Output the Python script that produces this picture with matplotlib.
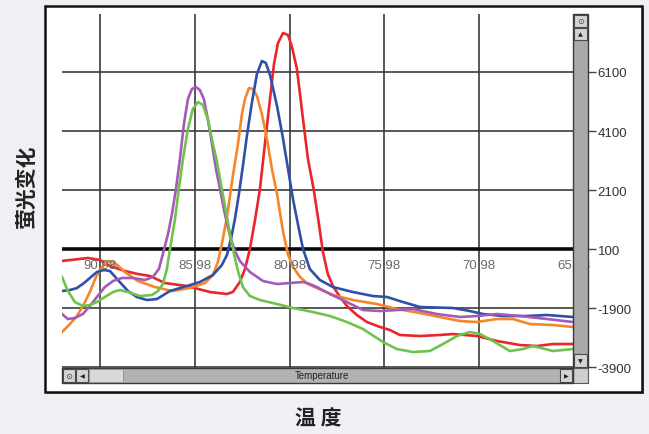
import matplotlib
matplotlib.use("Agg")
import matplotlib.pyplot as plt
from matplotlib.patches import Rectangle

plt.rcParams['font.family'] = ['Liberation Sans', 'DejaVu Sans']

# ---------------- data ----------------
x_ticks = [90.98, 85.98, 80.98, 75.98, 70.98, 65.98]
x_tick_labels = ["90.98", "85.98", "80.98", "75.98", "70.98", "65.98"]
y_ticks = [6100, 4100, 2100, 100, -1900, -3900]
y_tick_labels = ["6100", "4100", "2100", "100", "-1900", "-3900"]

red_t = [92.98, 91.61, 90.98, 90.45, 89.66, 88.98, 88.34, 87.55, 86.39, 85.18, 84.28, 83.97,
         83.60, 83.33, 83.07, 82.81, 82.54, 82.28, 82.01, 81.80, 81.59, 81.32, 81.06, 80.85,
         80.59, 80.27, 80.01, 79.70, 79.43, 79.22, 78.96, 78.69, 78.32, 77.95, 77.43, 76.90,
         76.21, 75.69, 75.16, 74.10, 73.05, 72.36, 71.10, 70.04, 68.83, 67.93, 67.09, 66.03]
red_v = [-306, -205, -273, -476, -646, -748, -815, -1053, -1155, -1358, -1426, -1358,
         -1019, -578, 100, 1049, 2134, 3660, 5185, 6371, 7083, 7422, 7354, 6948,
         6202, 4507, 3151, 2100, 948, -2, -748, -1155, -1527, -1833, -2137, -2375,
         -2544, -2646, -2815, -2849, -2815, -2782, -2849, -3019, -3155, -3188, -3121, -3121]

orange_t = [92.98, 92.56, 92.19, 91.82, 91.51, 91.19, 90.87, 90.56, 90.19, 89.66, 88.98, 88.08,
            87.18, 86.23, 85.44, 85.02, 84.76, 84.55, 84.28, 83.97, 83.70, 83.49, 83.33, 83.12,
            82.91, 82.70, 82.44, 82.17, 81.91, 81.64, 81.32, 81.06, 80.80, 80.43, 80.01, 79.54,
            78.69, 77.64, 76.37, 75.32, 74.10, 73.05, 71.99, 71.10, 70.04, 69.20, 68.30, 67.09, 66.03]
orange_v = [-2714, -2443, -2171, -1765, -1358, -849, -510, -306, -374, -680, -985, -1189,
            -1324, -1222, -1053, -781, -341, 269, 1185, 2575, 3660, 4677, 5185, 5558,
            5524, 5287, 4677, 3829, 2812, 1965, 676, -83, -510, -849, -1087, -1222,
            -1460, -1629, -1765, -1934, -2070, -2205, -2341, -2375, -2273, -2273, -2443, -2476, -2544]

blue_t = [92.98, 92.56, 92.19, 91.82, 91.51, 91.14, 90.77, 90.45, 90.03, 89.50, 89.03, 88.50,
          87.97, 87.29, 86.39, 85.71, 85.02, 84.55, 84.28, 84.07, 83.86, 83.65, 83.44, 83.23,
          82.96, 82.70, 82.44, 82.23, 82.01, 81.64, 81.32, 81.06, 80.80, 80.54, 80.27, 79.91,
          79.38, 78.69, 77.64, 76.58, 75.84, 75.00, 74.10, 72.36, 71.47, 70.78, 69.73, 68.46,
          67.41, 66.03]
blue_v = [-1324, -1290, -1222, -1053, -883, -680, -612, -646, -951, -1324, -1527, -1629,
          -1595, -1324, -1155, -1019, -781, -442, -103, 439, 1117, 1965, 2914, 3931,
          5083, 6032, 6473, 6405, 5999, 4948, 3829, 2812, 1795, 948, 100, -578,
          -951, -1189, -1358, -1494, -1527, -1697, -1866, -1900, -2002, -2104, -2171, -2171,
          -2137, -2205]

purple_t = [92.98, 92.67, 92.30, 91.88, 91.51, 91.14, 90.72, 90.29, 89.82, 89.24, 88.61, 88.19,
            87.87, 87.66, 87.39, 87.18, 86.97, 86.76, 86.55, 86.34, 86.13, 85.92, 85.71, 85.50,
            85.29, 85.07, 84.86, 84.65, 84.39, 84.12, 83.86, 83.60, 83.07, 82.38, 81.64, 80.96,
            80.27, 79.91, 79.54, 78.85, 77.95, 77.11, 76.21, 75.32, 74.47, 73.21, 71.99, 71.10,
            70.04, 68.83, 67.41, 66.03]
purple_v = [-2104, -2273, -2239, -2104, -1833, -1527, -1189, -985, -883, -883, -951, -849,
            -578, -69, 608, 1286, 2134, 3151, 4337, 5185, 5524, 5592, 5490, 5185,
            4507, 3660, 2812, 2134, 1286, 541, 32, -306, -680, -985, -1087, -1053,
            -1019, -1087, -1189, -1426, -1697, -1968, -2002, -1968, -1934, -2104, -2205, -2171,
            -2104, -2171, -2273, -2375]

green_t = [92.98, 92.67, 92.30, 91.88, 91.51, 91.14, 90.72, 90.29, 89.93, 89.50, 88.87, 88.24,
           87.92, 87.66, 87.45, 87.24, 87.02, 86.82, 86.60, 86.34, 86.08, 85.81, 85.55, 85.29,
           85.02, 84.81, 84.60, 84.34, 84.12, 83.91, 83.70, 83.44, 83.07, 82.54, 81.64, 80.80,
           79.75, 78.85, 77.95, 77.11, 76.05, 75.32, 74.47, 73.58, 72.89, 72.15, 71.47, 70.94,
           70.25, 69.36, 68.67, 68.14, 67.09, 66.03]
green_v = [-849, -1324, -1697, -1833, -1799, -1697, -1527, -1358, -1290, -1358, -1494, -1460,
           -1324, -1087, -578, 269, 1117, 2134, 3151, 4168, 4846, 5083, 4981, 4507,
           3660, 3083, 2303, 1388, 608, -69, -646, -1189, -1494, -1629, -1765, -1900,
           -2036, -2171, -2375, -2612, -3053, -3290, -3392, -3358, -3121, -2849, -2714, -2782,
           -3019, -3358, -3290, -3188, -3358, -3290]

series = [
    (red_t, red_v, "#e8262b"),
    (orange_t, orange_v, "#f5862a"),
    (blue_t, blue_v, "#3050a8"),
    (purple_t, purple_v, "#a559b8"),
    (green_t, green_v, "#6fc34c"),
]

# ---------------- figure ----------------
W, H = 649, 435
fig = plt.figure(figsize=(W / 100, H / 100), dpi=100)
fig.patch.set_facecolor("#eef0f3")


def fx(px):
    return px / W


def fy(py):
    return 1 - py / H


# outer framed box with shadow
fig.patches.append(Rectangle((fx(47), fy(395)), fx(642 - 45), (393 - 7) / H,
                             transform=fig.transFigure, facecolor="#8a8a8a",
                             edgecolor="none", zorder=-2))
fig.patches.append(Rectangle((fx(45), fy(393)), fx(642 - 45), (393 - 7) / H,
                             transform=fig.transFigure, facecolor="white",
                             edgecolor="#111111", linewidth=1.8, zorder=-1))

ax_l, ax_r, ax_t, ax_b = 62, 588, 15, 384
ax = fig.add_axes([fx(ax_l), fy(ax_b), (ax_r - ax_l) / W, (ax_b - ax_t) / H])
ax.set_zorder(2)
ax.set_facecolor("none")
ax.set_xlim(92.98, 65.24)
ax.set_ylim(-4442, 8066)
for s in ax.spines.values():
    s.set_visible(False)

# grid
for t in x_ticks:
    ax.axvline(t, color="#3c3c3c", lw=1.2, zorder=1)
for v in y_ticks:
    if v == 100:
        ax.axhline(v, color="#0a0a0a", lw=2.6, zorder=1)
    else:
        ax.axhline(v, color="#3c3c3c", lw=1.2, zorder=1)

# curves
for t, v, c in series:
    ax.plot(t, v, color=c, lw=1.9, zorder=3, solid_joinstyle="round")

# x tick labels placed just under the 100 line
ax.set_xticks([])
for t, lab in zip(x_ticks, x_tick_labels):
    ax.annotate(lab, xy=(t, 100), xytext=(0, -7), textcoords="offset points",
                ha="center", va="top", fontsize=9.5, color="#6a6a6a", zorder=4)

# y ticks on the right
ax.yaxis.tick_right()
ax.set_yticks(y_ticks)
ax.set_yticklabels(y_tick_labels)
ax.tick_params(axis="y", length=5.5, width=1.0, color="#444444", pad=1.5,
               labelsize=9.5, labelcolor="#333333")

# ---------------- scrollbars ----------------
ta = ax.transAxes
aw = ax_r - ax_l
ah = ax_b - ax_t


def ar(x0, y0, x1, y1, fc, ec="#4a4a4a", lw=0.8, z=6):
    ax.add_patch(Rectangle(((x0 - ax_l) / aw, (ax_b - y1) / ah),
                           (x1 - x0) / aw, (y1 - y0) / ah, transform=ta,
                           facecolor=fc, edgecolor=ec, linewidth=lw,
                           clip_on=False, zorder=z))


def atext(px, py, s, **kw):
    ax.text((px - ax_l) / aw, (ax_b - py) / ah, s, transform=ta,
            ha="center", va="center", zorder=8, clip_on=False, **kw)


# vertical scrollbar
ar(573, 15, 588, 369, "#a9a9a9", ec="#3a3a3a", lw=1.0)
ar(574, 16, 587, 28, "#d4d4d4")
atext(580.5, 22, "⊙", fontsize=6, color="#444444", family="DejaVu Sans")
ar(574, 29, 587, 41, "#d4d4d4")
atext(580.5, 35, "▲", fontsize=4.5, color="#222222", family="DejaVu Sans")
ar(574, 355, 587, 368, "#d4d4d4")
atext(580.5, 361.5, "▼", fontsize=4.5, color="#222222", family="DejaVu Sans")
# corner
ar(573, 369, 588, 384, "#cfcfcf", ec="#5a5a5a")

# horizontal scrollbar
ar(62, 369, 573, 384, "#b2b2b2", ec="#3a3a3a", lw=1.0)
ar(63, 370, 75, 383, "#d4d4d4")
atext(69, 376.5, "⊙", fontsize=6, color="#444444", family="DejaVu Sans")
ar(76, 370, 88, 383, "#d4d4d4")
atext(82, 376.5, "◀", fontsize=4.5, color="#222222", family="DejaVu Sans")
ar(89, 370, 123, 383, "#d9d9d9", ec="#9a9a9a")
ar(560, 370, 572, 383, "#d4d4d4")
atext(566, 376.5, "▶", fontsize=4.5, color="#222222", family="DejaVu Sans")
atext(322, 376.5, "Temperature", fontsize=7, color="#222222")

# ---------------- axis titles ----------------
cjk = ["Noto Sans CJK SC", "DejaVu Sans"]
fig.text(fx(26), fy(186), "萤光变化", rotation=90, ha="center", va="center",
         fontsize=15, fontweight="bold", color="#222222", family=cjk)
fig.text(fx(318), fy(419), "温 度", ha="center", va="center",
         fontsize=15, fontweight="bold", color="#222222", family=cjk)

fig.savefig("out.png", dpi=100, facecolor=fig.get_facecolor())
